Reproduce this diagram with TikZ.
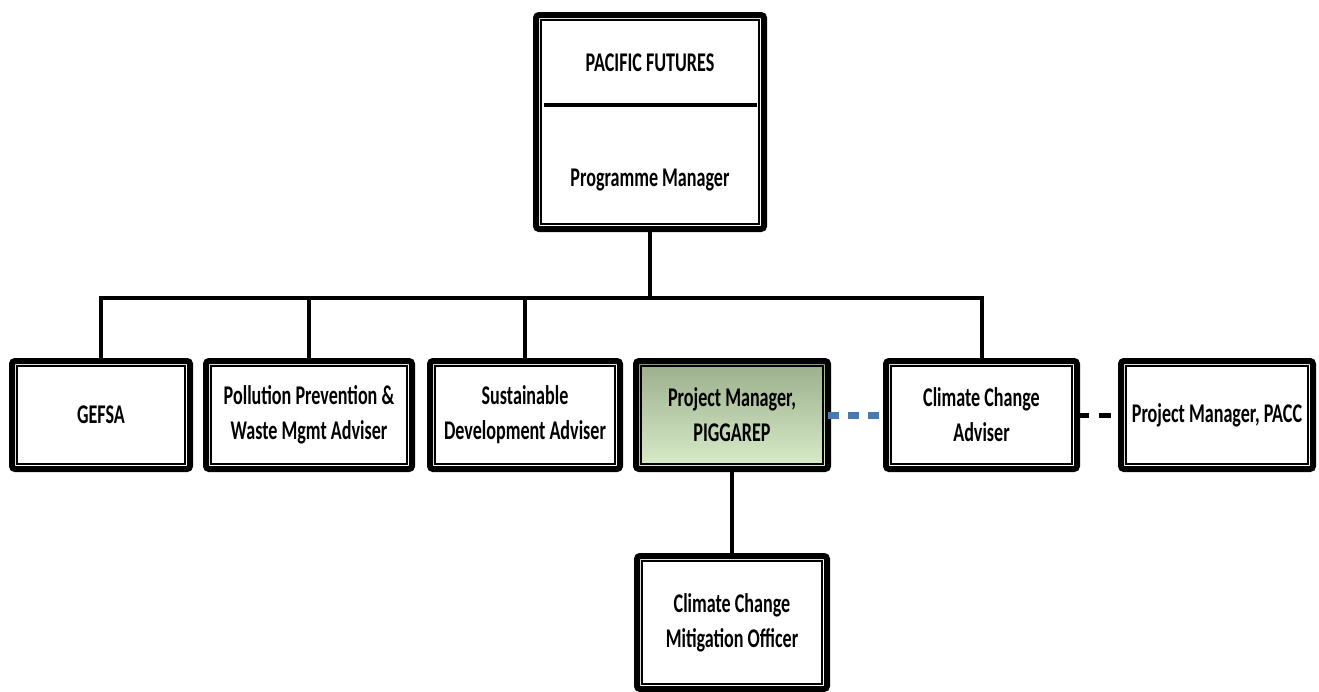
\documentclass[tikz,border=0pt]{standalone}
\usepackage{fontspec}
\usepackage{xcolor}
\usepackage{tikz}
\usetikzlibrary{calc}
\newfontfamily\orgfont{Carlito}[FakeStretch=0.67]
\definecolor{ink}{HTML}{000000}
\definecolor{link}{HTML}{4A78B0}
\definecolor{leaftop}{HTML}{9AAE8C}
\definecolor{leafbot}{HTML}{DAEDCB}
\tikzset{
  lab/.style={text=ink, align=center, inner sep=0pt, font=\orgfont\bfseries\fontsize{27}{35}\selectfont},
  unit/.style={lab, draw=ink, fill=white, line width=6pt, rounded corners=3pt, outer sep=0pt},
  rim/.style={draw=ink, line width=2pt},
  conn/.style={draw=ink, line width=4pt},
  rule/.style={draw=ink, line width=4pt},
  bluelink/.style={draw=link, line width=7pt, dash pattern=on 11pt off 9pt},
  blacklink/.style={draw=ink, line width=5pt, dash pattern=on 12pt off 10pt},
}
\begin{document}
\begin{tikzpicture}[x=1pt,y=-1pt]
  \useasboundingbox (0,0) rectangle (1319,691);
  % top box
  \node[unit, minimum width=228pt, minimum height=214pt] (pf) at (650,122) {};
  \node[lab] (pft) at (650,63) {PACIFIC FUTURES};
  \node[lab] (pm) at (650,180) {Programme Manager};
  \draw[rule] (544,105) -- (757,105);
  % second row
  \node[unit, minimum width=178pt, minimum height=108pt] (gefsa) at (101,415) {GEFSA};
  \node[unit, minimum width=206pt, minimum height=108pt] (ppw) at (309,415) {Pollution Prevention \&\\Waste Mgmt Adviser};
  \node[unit, minimum width=190pt, minimum height=108pt] (sda) at (525,415) {Sustainable\\Development Adviser};
  \node[unit, minimum width=192pt, minimum height=108pt, top color=leaftop, bottom color=leafbot] (pig) at (732,415) {Project Manager,\\PIGGAREP};
  \node[unit, minimum width=191pt, minimum height=108pt] (cca) at (981.5,415) {Climate Change\\Adviser};
  \node[unit, minimum width=192pt, minimum height=108pt] (pacc) at (1217,415) {Project Manager, PACC};
  % bottom
  \node[unit, minimum width=190pt, minimum height=133pt] (ccmo) at (732,622.5) {Climate Change\\Mitigation Officer};
  \foreach \n in {pf,gefsa,ppw,sda,pig,cca,pacc,ccmo}
    \draw[rim] ($(\n.north west)+(5,5)$) rectangle ($(\n.south east)+(-5,-5)$);
  % connectors
  \coordinate (hub) at (650,298);
  \draw[conn] (pf.south) -- (hub);
  \draw[conn] (gefsa.north) |- (hub) -| (cca.north);
  \draw[conn] (ppw.north) -- (ppw.north |- hub);
  \draw[conn] (sda.north) -- (sda.north |- hub);
  \draw[conn] (pig.south) -- (ccmo.north);
  \draw[bluelink] (pig.east) -- (cca.west);
  \draw[blacklink] (cca.east) -- (pacc.west);
\end{tikzpicture}
\end{document}
